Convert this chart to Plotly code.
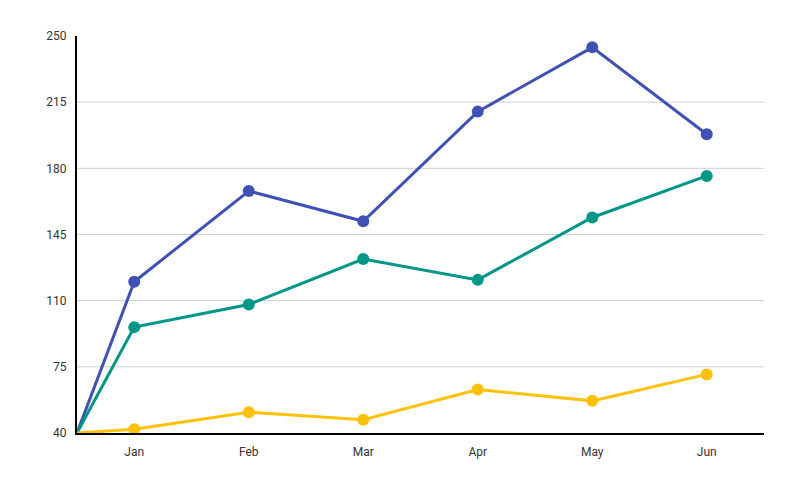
import plotly.graph_objects as go

# categories and values
months = ['Jan', 'Feb', 'Mar', 'Apr', 'May', 'Jun']
series_a = [120, 168, 152, 210, 244, 198]
series_b = [96, 108, 132, 121, 154, 176]
series_c = [42, 51, 47, 63, 57, 71]
y_min = 40
y_max = 250
y_ticks = [40, 75, 110, 145, 180, 215, 250]

colors = ['#3F51B5', '#009688', '#FFC107']

# band centres, lines start at the origin of the axes
x_pos = [0] + [i + 0.5 for i in range(len(months))]

fig = go.Figure()
for vals, col in zip([series_a, series_b, series_c], colors):
    fig.add_trace(go.Scatter(
        x=x_pos, y=[y_min] + vals, mode='lines+markers',
        line=dict(color=col, width=3),
        marker=dict(color=col, size=[0] + [12] * len(vals), opacity=1,
                    line=dict(width=0)),
        showlegend=False, hoverinfo='skip'))

# horizontal gridlines (no line at the top value)
for t in y_ticks[1:-1]:
    fig.add_shape(type='line', xref='paper', x0=0, x1=1, yref='y', y0=t, y1=t,
                  line=dict(color='#d0d0d0', width=1), layer='below')

fig.update_xaxes(range=[0, len(months)], tickvals=[i + 0.5 for i in range(len(months))],
                 ticktext=months, showgrid=False, zeroline=False,
                 showline=True, linecolor='black', linewidth=2, ticks='', ticklen=0,
                 ticklabelstandoff=7)
fig.update_yaxes(range=[y_min, y_max], tickvals=y_ticks, showgrid=False, zeroline=False,
                 showline=True, linecolor='black', linewidth=2, ticks='',
                 ticklabelstandoff=6)

# page has an 8px body margin, so the figure is shifted to compensate
fig.update_layout(
    width=784, height=484,
    margin=dict(l=69, r=28, t=28, b=59),
    plot_bgcolor='white', paper_bgcolor='white',
    font=dict(family='Roboto', size=12, color='#333333'),
)

fig.write_html("out.html")
